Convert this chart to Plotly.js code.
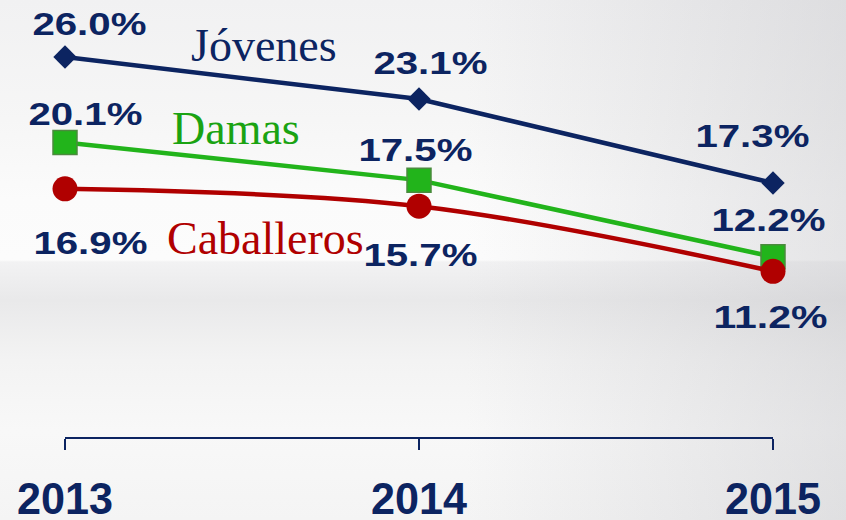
<!DOCTYPE html>
<html>
<head>
<meta charset="utf-8">
<script src="https://cdn.plot.ly/plotly-3.0.1.min.js"></script>
<style>
  html, body { margin:0; padding:0; }
  body {
    width:846px; height:520px; overflow:hidden;
    background:
      linear-gradient(to right, rgba(185,185,190,0) 55%, rgba(185,185,190,0.35) 100%),
      linear-gradient(to bottom, #f1f1f2 0px, #f6f6f6 120px, #fbfbfb 200px, #fcfcfc 260px, #f2f2f3 262px, #e9e9ea 300px, #f3f3f3 360px, #f8f8f8 430px, #f4f4f4 520px);
  }
  #chart { width:846px; height:520px; }
</style>
</head>
<body>
<div id="chart"></div>
<script>
// ---- data ----
const years = [2013, 2014, 2015];
const yearLabels = ['2013', '2014', '2015'];
const jovenes = [26.0, 23.1, 17.3];
const damas = [20.1, 17.5, 12.2];
const caballeros = [16.9, 15.7, 11.2];
const seriesNames = ['Jóvenes', 'Damas', 'Caballeros'];

// ---- styling ----
const NAVY = '#0c2461';
const GREEN = '#22b41b';
const RED = '#b00000';

const traces = [
  {x: years, y: jovenes, mode: 'lines+markers', name: seriesNames[0], cliponaxis: false,
   line: {color: NAVY, width: 4.5},
   marker: {symbol: 'diamond', size: 18, color: NAVY}},
  {x: years, y: damas, mode: 'lines+markers', name: seriesNames[1], cliponaxis: false,
   line: {color: GREEN, width: 4.5},
   marker: {symbol: 'square', size: 24, color: GREEN, line: {color: '#4b8a3e', width: 1.5}}},
  {x: years, y: caballeros, mode: 'lines+markers', name: seriesNames[2], cliponaxis: false,
   line: {color: RED, width: 4.5, shape: 'spline', smoothing: 1},
   marker: {symbol: 'circle', size: 25, color: RED}}
];

// label offsets in pixels (layout only)
const offJ = [[24, 33], [11, 36], [-21, 47]];
const offD = [[20, 28], [-4, 30], [-5, 37]];
const offC = [[25, -54], [1, -49], [-3, -46]];

const annotations = [];
function addLabels(vals, offs) {
  vals.forEach((v, i) => {
    annotations.push({
      x: years[i], y: v, xref: 'x', yref: 'y', showarrow: false,
      text: v.toFixed(1) + '%', xshift: offs[i][0], yshift: offs[i][1],
      font: {family: 'Liberation Sans, Arial, sans-serif', size: 32, color: NAVY, weight: 'bold'}
    });
  });
}
addLabels(jovenes, offJ);
addLabels(damas, offD);
addLabels(caballeros, offC);
const nPct = annotations.length;

const nameFont = (c) => ({family: 'Liberation Serif, Times New Roman, serif', size: 46, color: c});
annotations.push({x: 2013.562, y: 26.83, xref: 'x', yref: 'y', showarrow: false, text: seriesNames[0], font: nameFont(NAVY)});
annotations.push({x: 2013.483, y: 21.10, xref: 'x', yref: 'y', showarrow: false, text: seriesNames[1], font: nameFont('#1aa312')});
annotations.push({x: 2013.565, y: 13.50, xref: 'x', yref: 'y', showarrow: false, text: seriesNames[2], font: nameFont(RED)});

const layout = {
  width: 846, height: 520,
  margin: {l: 65, r: 73, t: 0, b: 83, pad: 0},
  paper_bgcolor: 'rgba(0,0,0,0)',
  plot_bgcolor: 'rgba(0,0,0,0)',
  showlegend: false,
  xaxis: {
    range: [2013, 2015], tickvals: years, ticktext: yearLabels,
    showgrid: false, zeroline: false, showline: true,
    linecolor: NAVY, linewidth: 1.5, ticks: 'outside', ticklen: 11, tickwidth: 1.5, tickcolor: NAVY,
    ticklabelstandoff: 10,
    tickfont: {family: 'Liberation Sans, Arial, sans-serif', size: 45, color: NAVY, weight: 'bold'}
  },
  yaxis: {range: [-0.24, 29.94], visible: false, showgrid: false, zeroline: false},
  annotations: annotations
};

Plotly.newPlot('chart', traces, layout, {displayModeBar: false, staticPlot: true}).then(gd => {
  gd.querySelectorAll('.annotation-text').forEach((n, i) => {
    if (i < nPct) { n.setAttribute('textLength', 114); n.setAttribute('lengthAdjust', 'spacingAndGlyphs'); }
  });
  gd.querySelectorAll('.xtick text').forEach(n => {
    n.setAttribute('textLength', 96); n.setAttribute('lengthAdjust', 'spacingAndGlyphs');
  });
});
</script>
</body>
</html>
